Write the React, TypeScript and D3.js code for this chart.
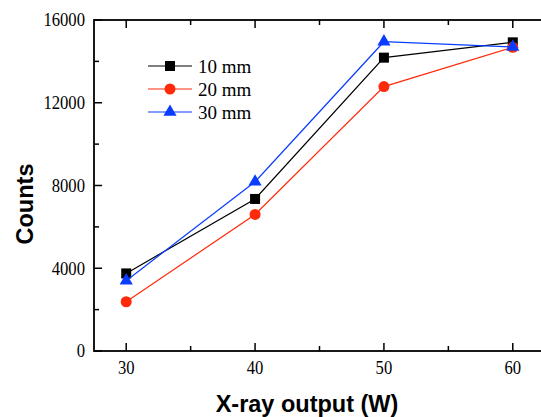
import * as d3 from 'd3';
import React from 'react';

const xValues = [30, 40, 50, 60];
const series10 = [3750, 7350, 14180, 14920];
const series20 = [2380, 6600, 12780, 14680];
const series30 = [3400, 8180, 14950, 14700];
const seriesNames = ['10 mm', '20 mm', '30 mm'];
const seriesColors = ['#000000', '#ff2a0a', '#0a3cff'];
const yTicks = [0, 4000, 8000, 12000, 16000];
const xTicks = [30, 40, 50, 60];

const W = 541;
const H = 417;
const m = { left: 94, top: 20, right: 545, bottom: 351 };

function Marker({ kind, x, y, color }: { kind: number; x: number; y: number; color: string }) {
  if (kind === 0) return <rect x={x - 5} y={y - 5} width={10} height={10} fill={color} />;
  if (kind === 1) return <circle cx={x} cy={y} r={5.5} fill={color} />;
  const p = d3.symbol().type(d3.symbolTriangle).size(75)();
  return <path d={p || ''} transform={`translate(${x},${y})`} fill={color} />;
}

export default function App() {
  const x = d3.scaleLinear().domain([27.5, 62.5]).range([m.left, m.right]);
  const y = d3.scaleLinear().domain([0, 16000]).range([m.bottom, m.top]);
  const all = [series10, series20, series30];
  const line = d3.line<number>().x((_, i) => x(xValues[i])).y((d) => y(d));
  const minorY = d3.range(0, 16001, 2000).filter((v) => v % 4000 !== 0);
  const minorX = [35, 45, 55];
  const serif = '"Liberation Serif", "Times New Roman", serif';
  const sans = '"Liberation Sans", Arial, sans-serif';

  return (
    <svg width={W} height={H} style={{ position: 'absolute', left: 0, top: 0 }}>
      <rect width={W} height={H} fill="#fff" />
      {/* lines and markers */}
      {all.map((s, k) => (
        <g key={k}>
          <path d={line(s) || ''} fill="none" stroke={seriesColors[k]} strokeWidth={1.2} />
          {s.map((v, i) => (
            <Marker key={i} kind={k} x={x(xValues[i])} y={y(v)} color={seriesColors[k]} />
          ))}
        </g>
      ))}
      {/* frame */}
      <rect x={m.left} y={m.top} width={m.right - m.left} height={m.bottom - m.top} fill="none" stroke="#000" strokeWidth={1.8} />
      {/* y ticks */}
      {yTicks.map((t) => (
        <g key={t}>
          <line x1={m.left} x2={m.left + 8} y1={y(t)} y2={y(t)} stroke="#000" strokeWidth={1.5} />
          <text transform={`translate(85,${y(t)}) scale(0.9,1)`} dy="0.35em" textAnchor="end" fontFamily={serif} fontSize={18.5}>{t}</text>
        </g>
      ))}
      {minorY.map((t) => (
        <line key={t} x1={m.left} x2={m.left + 5} y1={y(t)} y2={y(t)} stroke="#000" strokeWidth={1.5} />
      ))}
      {/* x ticks */}
      {xTicks.map((t) => (
        <g key={t}>
          <line x1={x(t)} x2={x(t)} y1={m.bottom} y2={m.bottom - 8} stroke="#000" strokeWidth={1.5} />
          <line x1={x(t)} x2={x(t)} y1={m.top} y2={m.top + 8} stroke="#000" strokeWidth={1.5} />
          <text transform={`translate(${x(t)},374) scale(0.9,1)`} textAnchor="middle" fontFamily={serif} fontSize={18.5}>{t}</text>
        </g>
      ))}
      {minorX.map((t) => (
        <g key={t}>
          <line x1={x(t)} x2={x(t)} y1={m.bottom} y2={m.bottom - 5} stroke="#000" strokeWidth={1.5} />
          <line x1={x(t)} x2={x(t)} y1={m.top} y2={m.top + 5} stroke="#000" strokeWidth={1.5} />
        </g>
      ))}
      {/* axis titles */}
      <text x={307} y={412} textAnchor="middle" fontFamily={sans} fontWeight="bold" fontSize={23.5}>X-ray output (W)</text>
      <text transform="translate(33,204) rotate(-90)" textAnchor="middle" fontFamily={sans} fontWeight="bold" fontSize={23.5}>Counts</text>
      {/* legend */}
      {seriesNames.map((n, k) => {
        const ly = 66 + k * 23;
        return (
          <g key={n}>
            <line x1={148} x2={192} y1={ly} y2={ly} stroke={seriesColors[k]} strokeWidth={1.2} />
            <Marker kind={k} x={170} y={ly} color={seriesColors[k]} />
            <text x={198} y={ly} dy="0.35em" fontFamily={serif} fontSize={19}>{n}</text>
          </g>
        );
      })}
    </svg>
  );
}
